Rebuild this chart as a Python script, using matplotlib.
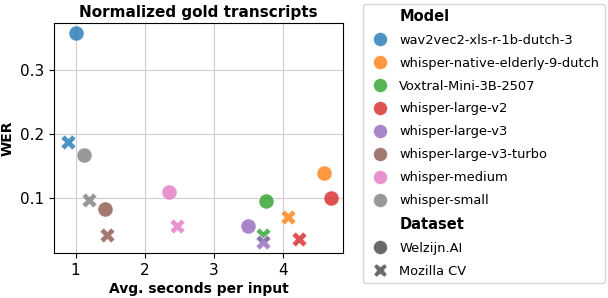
import matplotlib
matplotlib.use("Agg")
import matplotlib.pyplot as plt
from matplotlib.lines import Line2D

models = ["wav2vec2-xls-r-1b-dutch-3", "whisper-native-elderly-9-dutch",
          "Voxtral-Mini-3B-2507", "whisper-large-v2", "whisper-large-v3",
          "whisper-large-v3-turbo", "whisper-medium", "whisper-small"]
colors = ["tab:blue", "tab:orange", "tab:green", "tab:red", "tab:purple",
          "tab:brown", "tab:pink", "tab:gray"]

# Welzijn.AI
welzijn_sec = [1.00, 4.59, 3.75, 4.70, 3.49, 1.43, 2.35, 1.12]
welzijn_wer = [0.359, 0.139, 0.095, 0.101, 0.057, 0.083, 0.110, 0.168]
# Mozilla CV
cv_sec = [0.89, 4.07, 3.72, 4.24, 3.71, 1.46, 2.47, 1.19]
cv_wer = [0.188, 0.071, 0.042, 0.036, 0.031, 0.042, 0.057, 0.098]

fig = plt.figure(figsize=(6.08, 2.98), dpi=100)
ax = fig.add_axes([0.089, 0.151, 0.475, 0.772])

for i, m in enumerate(models):
    ax.scatter(welzijn_sec[i], welzijn_wer[i], s=120, marker="o", color=colors[i],
               alpha=0.8, edgecolors="white", linewidths=0.6, zorder=3)
    ax.scatter(cv_sec[i], cv_wer[i], s=120, marker="X", color=colors[i],
               alpha=0.8, edgecolors="white", linewidths=0.6, zorder=3)

ax.set_xlim(0.69, 4.87)
ax.set_ylim(0.0145, 0.374)
ax.set_xticks([1, 2, 3, 4])
ax.set_yticks([0.1, 0.2, 0.3])
ax.grid(True, color="#cccccc", linewidth=0.8)
ax.set_axisbelow(True)
ax.tick_params(labelsize=11)
ax.set_xlabel("Avg. seconds per input", fontsize=10, fontweight="bold", labelpad=3)
ax.set_ylabel("WER", fontsize=10, fontweight="bold")
ax.set_title("Normalized gold transcripts", fontsize=11, fontweight="bold", pad=4)

blank = Line2D([], [], linestyle="none", marker="")
handles = [blank]
labels = ["Model"]
for m, c in zip(models, colors):
    handles.append(Line2D([], [], linestyle="none", marker="o", markersize=10.5,
                          color=c, alpha=0.8, markeredgecolor="white"))
    labels.append(m)
handles.append(blank)
labels.append("Dataset")
handles.append(Line2D([], [], linestyle="none", marker="o", markersize=10.5,
                      color="#444444", alpha=0.8, markeredgecolor="white"))
labels.append("Welzijn.AI")
handles.append(Line2D([], [], linestyle="none", marker="X", markersize=10.5,
                      color="#444444", alpha=0.8, markeredgecolor="white"))
labels.append("Mozilla CV")

leg = fig.legend(handles, labels, loc="upper left", bbox_to_anchor=(0.587, 1.01),
                 fontsize=9.4, frameon=True, handlelength=1.8, handletextpad=0.55,
                 labelspacing=0.76)
for t in leg.get_texts():
    if t.get_text() in ("Model", "Dataset"):
        t.set_fontweight("bold")
        t.set_fontsize(10.5)

fig.savefig("out.png", dpi=100)
